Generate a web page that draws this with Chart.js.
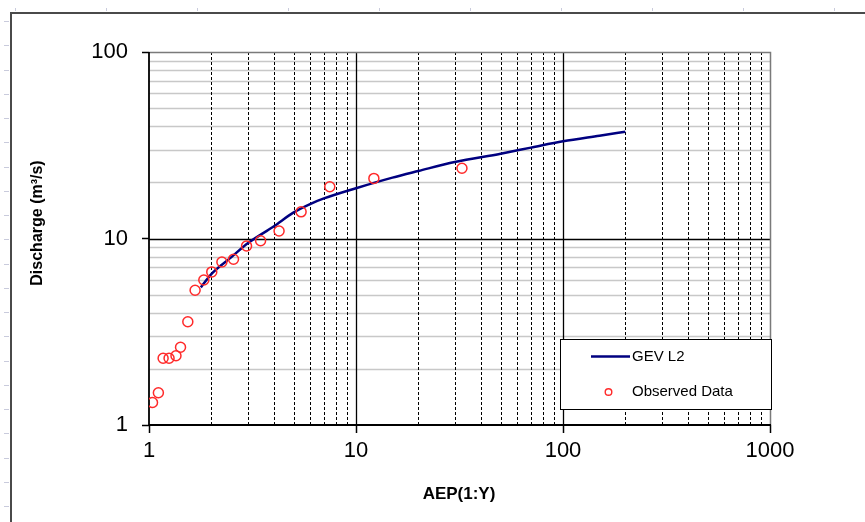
<!DOCTYPE html>
<html>
<head>
<meta charset="utf-8">
<script src="https://cdn.jsdelivr.net/npm/chart.js@4.4.0/dist/chart.umd.min.js"></script>
<style>
html,body{margin:0;padding:0;background:#fff;}
#wrap{width:865px;height:522px;position:relative;}
</style>
</head>
<body>
<div id="wrap"><canvas id="c" width="865" height="522"></canvas></div>
<script>
// ---- data ----
const aepGev = [1.78, 2, 2.5, 3, 4, 5, 6, 7, 10, 15, 20, 30, 50, 70, 100, 150, 200];
const dischargeGev = [5.47, 6.45, 7.95, 9.43, 11.6, 13.8, 15.3, 16.4, 18.6, 21.2, 23.0, 25.7, 28.5, 30.7, 33.2, 35.6, 37.4];
const aepObserved = [1.04, 1.11, 1.17, 1.25, 1.35, 1.42, 1.54, 1.67, 1.84, 2.01, 2.25, 2.56, 2.96, 3.46, 4.25, 5.43, 7.47, 12.2, 32.5];
const dischargeObserved = [1.32, 1.49, 2.28, 2.28, 2.35, 2.61, 3.58, 5.28, 5.99, 6.62, 7.48, 7.74, 9.12, 9.73, 10.97, 13.9, 18.95, 21.0, 23.8];
const xTicks = [1, 10, 100, 1000];
const yTicks = [1, 10, 100];
const seriesNames = ['GEV L2', 'Observed Data'];
const xTitle = 'AEP(1:Y)';
const yTitle = 'Discharge (m\u00B3/s)';

const FONT = '"Liberation Sans", Arial, sans-serif';

function decadeMinors(min, max) {
  const out = [];
  for (let d = min; d < max; d *= 10) {
    for (let k = 2; k <= 9; k++) out.push(d * k);
  }
  return out;
}

const framePlugin = {
  id: 'frame',
  beforeDatasetsDraw(chart) {
    const ctx = chart.ctx;
    const a = chart.chartArea;
    const xs = chart.scales.x, ys = chart.scales.y;
    ctx.save();
    // minor horizontal gridlines
    ctx.strokeStyle = '#c8c8c8';
    ctx.lineWidth = 1.5;
    decadeMinors(1, 100).forEach(v => {
      const y = Math.round(ys.getPixelForValue(v)) + 0.5;
      ctx.beginPath(); ctx.moveTo(a.left, y); ctx.lineTo(a.right, y); ctx.stroke();
    });
    // minor vertical dashed gridlines
    ctx.strokeStyle = '#000';
    ctx.lineWidth = 1;
    ctx.setLineDash([3, 2]);
    decadeMinors(1, 1000).forEach(v => {
      const x = Math.round(xs.getPixelForValue(v)) + 0.5;
      ctx.beginPath(); ctx.moveTo(x, a.top); ctx.lineTo(x, a.bottom); ctx.stroke();
    });
    ctx.setLineDash([]);
    // major gridlines
    ctx.strokeStyle = '#000';
    ctx.lineWidth = 1.3;
    [10, 100].forEach(v => {
      const x = Math.round(xs.getPixelForValue(v)) + 0.5;
      ctx.beginPath(); ctx.moveTo(x, a.top); ctx.lineTo(x, a.bottom); ctx.stroke();
    });
    {
      const y = Math.round(ys.getPixelForValue(10)) + 0.5;
      ctx.lineWidth = 1.5;
      ctx.beginPath(); ctx.moveTo(a.left, y); ctx.lineTo(a.right, y); ctx.stroke();
    }
    // top and right border (gray)
    ctx.strokeStyle = '#7a7a7a';
    ctx.lineWidth = 1.5;
    ctx.beginPath();
    ctx.moveTo(a.left, a.top + 0.5); ctx.lineTo(a.right + 0.5, a.top + 0.5); ctx.lineTo(a.right + 0.5, a.bottom);
    ctx.stroke();
    // axes (black)
    ctx.strokeStyle = '#000';
    ctx.lineWidth = 1.8;
    ctx.beginPath();
    ctx.moveTo(a.left, a.top); ctx.lineTo(a.left, a.bottom); ctx.lineTo(a.right + 1, a.bottom);
    ctx.stroke();
    ctx.restore();
  },
  afterDatasetsDraw(chart) {
    const ctx = chart.ctx;
    ctx.save();
    // legend
    const bx = 560.5, by = 339.5, bw = 211, bh = 70;
    ctx.fillStyle = '#fff';
    ctx.fillRect(bx, by, bw, bh);
    ctx.strokeStyle = '#000';
    ctx.lineWidth = 1;
    ctx.strokeRect(bx, by, bw, bh);
    const ds0 = chart.data.datasets[0], ds1 = chart.data.datasets[1];
    ctx.strokeStyle = ds0.borderColor;
    ctx.lineWidth = ds0.borderWidth;
    ctx.beginPath(); ctx.moveTo(591, 356.5); ctx.lineTo(630, 356.5); ctx.stroke();
    ctx.strokeStyle = ds1.borderColor;
    ctx.lineWidth = 1.4;
    ctx.beginPath(); ctx.arc(608.5, 392, 3.3, 0, Math.PI * 2); ctx.stroke();
    ctx.fillStyle = '#000';
    ctx.font = '15px ' + FONT;
    ctx.textBaseline = 'middle';
    ctx.textAlign = 'left';
    ctx.fillText(seriesNames[0], 632, 357);
    ctx.fillText(seriesNames[1], 632, 392);
    // axis titles
    ctx.font = 'bold 17px ' + FONT;
    ctx.textAlign = 'center';
    ctx.fillText(xTitle, 459, 494);
    ctx.save();
    ctx.translate(38, 223);
    ctx.rotate(-Math.PI / 2);
    ctx.font = 'bold 16px ' + FONT;
    ctx.fillText(yTitle, 0, 0);
    ctx.restore();
    // outer frame
    ctx.strokeStyle = '#c9cbdc';
    ctx.lineWidth = 1;
    for (let x = 15; x < 865; x += 91) {
      ctx.beginPath(); ctx.moveTo(x + 0.5, 8); ctx.lineTo(x + 0.5, 11); ctx.stroke();
    }
    for (let y = 21; y < 522; y += 24.25) {
      const yy = Math.round(y) + 0.5;
      ctx.beginPath(); ctx.moveTo(4, yy); ctx.lineTo(9, yy); ctx.stroke();
    }
    ctx.strokeStyle = '#4a4a4a';
    ctx.lineWidth = 2;
    ctx.beginPath();
    ctx.moveTo(11, 522); ctx.lineTo(11, 13); ctx.lineTo(865, 13);
    ctx.stroke();
    ctx.restore();
  }
};

new Chart(document.getElementById('c'), {
  type: 'scatter',
  data: {
    datasets: [
      {
        label: seriesNames[0],
        data: aepGev.map((x, i) => ({ x: x, y: dischargeGev[i] })),
        showLine: true,
        borderColor: '#000080',
        borderWidth: 2.5,
        pointRadius: 0,
        cubicInterpolationMode: 'monotone',
        fill: false,
        order: 1
      },
      {
        label: seriesNames[1],
        data: aepObserved.map((x, i) => ({ x: x, y: dischargeObserved[i] })),
        showLine: false,
        borderColor: '#ff2a2a',
        backgroundColor: 'rgba(0,0,0,0)',
        pointRadius: 5,
        pointBorderWidth: 1.5,
        pointBorderColor: '#ff2a2a',
        pointBackgroundColor: 'rgba(0,0,0,0)',
        order: 0
      }
    ]
  },
  options: {
    responsive: false,
    animation: false,
    devicePixelRatio: 1,
    layout: { padding: { left: 0, right: 95, top: 52, bottom: 0 } },
    plugins: { legend: { display: false }, tooltip: { enabled: false }, title: { display: false } },
    scales: {
      x: {
        type: 'logarithmic',
        min: 1, max: 1000,
        afterBuildTicks(scale) { scale.ticks = xTicks.map(v => ({ value: v })); },
        afterFit(scale) { scale.height = 97; },
        ticks: {
          autoSkip: false, maxRotation: 0,
          color: '#000', padding: 5,
          font: { family: FONT, size: 22 },
          callback: (v) => String(v)
        },
        grid: { drawOnChartArea: false, drawTicks: true, tickLength: 8, tickColor: '#000', tickWidth: 1.5 },
        border: { display: false }
      },
      y: {
        type: 'logarithmic',
        min: 1, max: 100,
        afterBuildTicks(scale) { scale.ticks = yTicks.map(v => ({ value: v })); },
        afterFit(scale) { scale.width = 149; },
        ticks: {
          autoSkip: false,
          color: '#000', padding: 14,
          font: { family: FONT, size: 22 },
          callback: (v) => String(v)
        },
        grid: { drawOnChartArea: false, drawTicks: true, tickLength: 7, tickColor: '#000', tickWidth: 1.5 },
        border: { display: false }
      }
    }
  },
  plugins: [framePlugin]
});
</script>
</body>
</html>
